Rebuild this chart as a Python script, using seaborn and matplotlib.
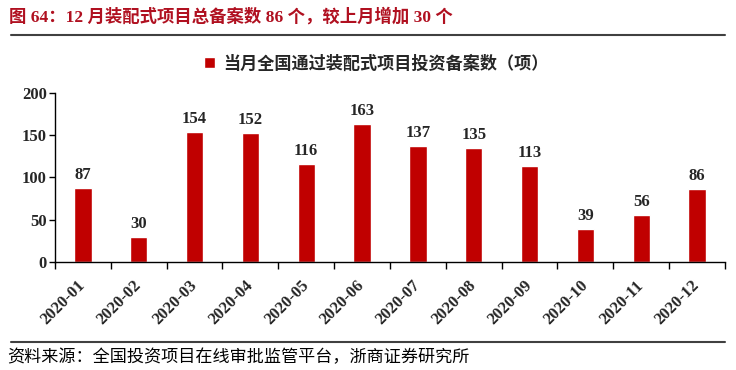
import matplotlib
matplotlib.use("Agg")
import matplotlib.pyplot as plt
import matplotlib.transforms as mtransforms
import seaborn as sns
import pandas as pd
from matplotlib.lines import Line2D
from matplotlib.patches import Patch

months = ["2020-01", "2020-02", "2020-03", "2020-04", "2020-05", "2020-06",
          "2020-07", "2020-08", "2020-09", "2020-10", "2020-11", "2020-12"]
values = [87, 30, 154, 152, 116, 163, 137, 135, 113, 39, 56, 86]
series_name = "当月全国通过装配式项目投资备案数（项）"
title = "图 64：12 月装配式项目总备案数 86 个，较上月增加 30 个"
source = "资料来源：全国投资项目在线审批监管平台，浙商证券研究所"
yticks = [0, 50, 100, 150, 200]

sns.set_theme(style="white")
plt.rcParams['font.family'] = ['Liberation Serif', 'Noto Sans CJK SC']
bar_color = "#C00000"
num_font = ['Liberation Serif', 'Noto Sans CJK SC']
cjk_font = ['Noto Sans CJK SC', 'Liberation Serif']

df = pd.DataFrame({"month": months, "value": values})

fig = plt.figure(figsize=(7.36, 3.70), dpi=100)
ax = fig.add_axes([0.0747, 0.292, 0.9103, 0.457])
sns.barplot(data=df, x="month", y="value", color=bar_color, width=0.31,
            saturation=1, ax=ax)

ax.set_ylim(0, 200)
ax.set_xlim(-0.5, len(months) - 0.5)
ax.set_yticks(yticks)
ax.set_yticklabels([str(v) for v in yticks], fontsize=12, fontweight="bold",
                   family=num_font)
ax.set_xlabel("")
ax.set_ylabel("")
ax.set_xticks(range(len(months)))
ax.set_xticklabels(months, rotation=45, ha="right", va="center", rotation_mode="anchor",
                   fontsize=12, fontweight="bold", family=num_font)
ax.tick_params(axis="x", length=0, pad=0)
offset = mtransforms.ScaledTranslation(0 / 100, -21 / 100, fig.dpi_scale_trans)
for lab in ax.get_xticklabels():
    lab.set_transform(lab.get_transform() + offset)
ax.tick_params(axis="y", direction="out", length=4, width=1, color="black", left=True, pad=2)
# minor ticks at category boundaries
ax.set_xticks([i - 0.5 for i in range(len(months) + 1)], minor=True)
ax.tick_params(axis="x", which="minor", direction="out", length=5, width=1,
               color="black", bottom=True)

for s in ["top", "right"]:
    ax.spines[s].set_visible(False)
for s in ["left", "bottom"]:
    ax.spines[s].set_color("black")
    ax.spines[s].set_linewidth(1)

for i, v in enumerate(values):
    ax.text(i, v + 6, str(v), ha="center", va="bottom", fontsize=12,
            fontweight="bold", family=num_font)

leg = ax.legend(handles=[Patch(facecolor=bar_color, label=series_name)],
                loc="lower center", bbox_to_anchor=(0.48, 1.03), frameon=False,
                handlelength=0.6, handleheight=0.6, handletextpad=0.5,
                prop={"family": cjk_font, "size": 12.3, "weight": "bold"})

fig.text(0.012, 0.955, title, ha="left", va="center", fontsize=12.5,
         fontweight="bold", color="#B01020", family=num_font)
fig.add_artist(Line2D([0.015, 0.985], [0.905, 0.905], color="#404040", linewidth=1.5))
fig.add_artist(Line2D([0.015, 0.985], [0.075, 0.075], color="#404040", linewidth=1.5))
fig.text(0.010, 0.035, source, ha="left", va="center", fontsize=12.3,
         color="black", family=cjk_font)

fig.savefig("out.png", dpi=100)
